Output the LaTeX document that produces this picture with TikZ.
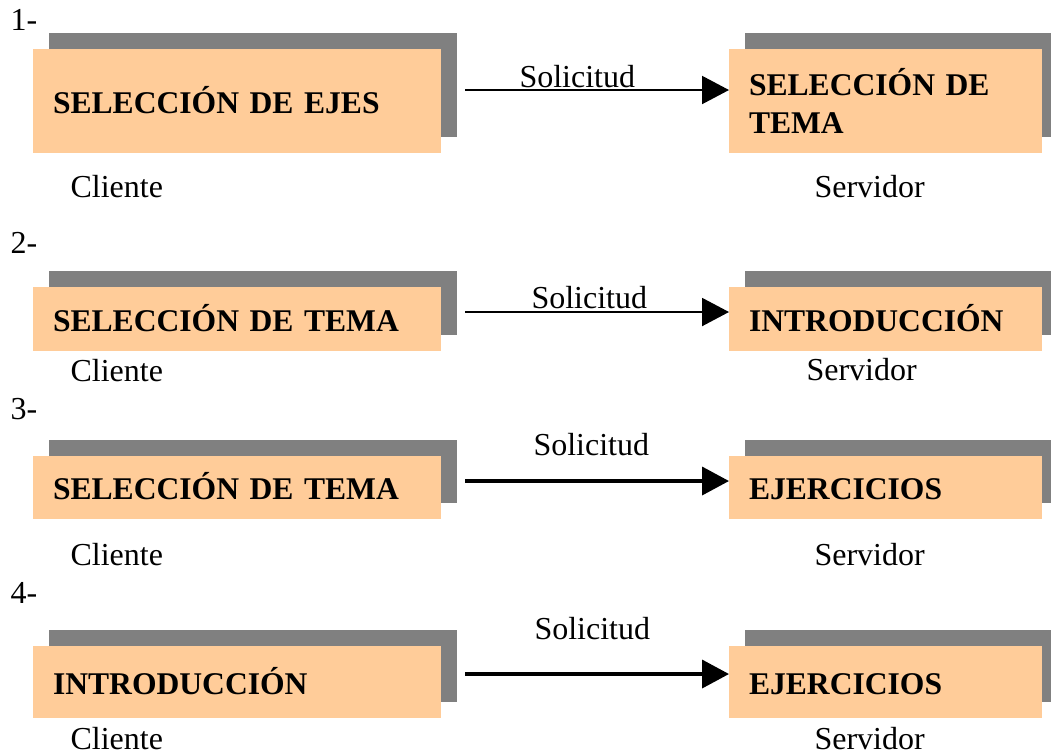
\documentclass[tikz,border=0pt]{standalone}
\usepackage{fontspec}
\setmainfont{Liberation Serif}
\usetikzlibrary{arrows.meta}
\definecolor{peach}{HTML}{FFCC99}
\definecolor{shadowgray}{HTML}{808080}
\def\u{0.375pt}
\tikzset{
  every node/.style={font=\fontsize{12pt}{14.25pt}\selectfont},
  shadowbox/.style={fill=shadowgray, draw=none, inner sep=0pt, outer sep=0pt},
  mainbox/.style={fill=peach, draw=none, inner ysep=0pt, inner xsep=20*\u, outer sep=0pt,
    align=left, font=\fontsize{11.85pt}{14.25pt}\selectfont\bfseries},
  onelinetxt/.style={text height=9pt, text depth=0pt},
  lefts/.style={minimum width=408*\u, text width=368*\u},
  rights/.style={minimum width=313*\u, text width=273*\u},
  plain/.style={inner sep=0pt, anchor=base west},
  thinarr/.style={line width=0.7pt, -{Triangle[length=10.1pt, width=10.5pt]}},
  thickarr/.style={line width=1.3pt, -{Triangle[length=10.1pt, width=10.5pt]}},
}
\begin{document}
\begin{tikzpicture}[x=\u, y=-\u]
\useasboundingbox (0,0) rectangle (1051,752);
\clip (0,0) rectangle (1051,752);

% ---------- Row 1 ----------
\node[plain] (n1) at (10,30) {1-};
\node[shadowbox, minimum width=408*\u, minimum height=104*\u] (l1s) at (253,85) {};
\node[shadowbox, minimum width=313*\u, minimum height=104*\u] (r1s) at (901.5,85) {};
\node[mainbox, lefts, onelinetxt, minimum height=104*\u] (l1) at (237,101) {SELECCIÓN DE EJES};
\node[mainbox, rights, minimum height=104*\u] (r1) at (885.5,101) {SELECCIÓN DE\\TEMA};
\coordinate (a1) at (465,90);
\draw[thinarr] (a1) -- (a1 -| r1.west);
\node[plain] (s1) at (519,87) {Solicitud};
\node[plain] (c1) at (70,197) {Cliente};
\node[plain] (v1) at (814,197) {Servidor};

% ---------- Row 2 ----------
\node[plain] (n2) at (10,253) {2-};
\node[shadowbox, minimum width=408*\u, minimum height=64*\u] (l2s) at (253,303) {};
\node[shadowbox, minimum width=313*\u, minimum height=64*\u] (r2s) at (901.5,303) {};
\node[mainbox, lefts, onelinetxt, minimum height=64*\u] (l2) at (237,319) {SELECCIÓN DE TEMA};
\node[mainbox, rights, onelinetxt, minimum height=64*\u] (r2) at (885.5,319) {INTRODUCCIÓN};
\coordinate (a2) at (465,312);
\draw[thinarr] (a2) -- (a2 -| r2.west);
\node[plain] (s2) at (531,308) {Solicitud};
\node[plain] (c2) at (70,381) {Cliente};
\node[plain] (v2) at (806,380) {Servidor};

% ---------- Row 3 ----------
\node[plain] (n3) at (10,419) {3-};
\node[shadowbox, minimum width=408*\u, minimum height=63*\u] (l3s) at (253,471.5) {};
\node[shadowbox, minimum width=313*\u, minimum height=63*\u] (r3s) at (901.5,471.5) {};
\node[mainbox, lefts, onelinetxt, minimum height=63*\u] (l3) at (237,487.5) {SELECCIÓN DE TEMA};
\node[mainbox, rights, onelinetxt, minimum height=63*\u] (r3) at (885.5,487.5) {EJERCICIOS};
\coordinate (a3) at (465,481);
\draw[thickarr] (a3) -- (a3 -| r3.west);
\node[plain] (s3) at (533,455) {Solicitud};
\node[plain] (c3) at (70,565) {Cliente};
\node[plain] (v3) at (814,565) {Servidor};

% ---------- Row 4 ----------
\node[plain] (n4) at (10,603) {4-};
\node[shadowbox, minimum width=408*\u, minimum height=72*\u] (l4s) at (253,666) {};
\node[shadowbox, minimum width=313*\u, minimum height=72*\u] (r4s) at (901.5,666) {};
\node[mainbox, lefts, onelinetxt, minimum height=72*\u] (l4) at (237,682) {INTRODUCCIÓN};
\node[mainbox, rights, onelinetxt, minimum height=72*\u] (r4) at (885.5,682) {EJERCICIOS};
\coordinate (a4) at (465,674);
\draw[thickarr] (a4) -- (a4 -| r4.west);
\node[plain] (s4) at (534,639) {Solicitud};
\node[plain] (c4) at (70,749) {Cliente};
\node[plain] (v4) at (814,749) {Servidor};
\end{tikzpicture}
\end{document}
